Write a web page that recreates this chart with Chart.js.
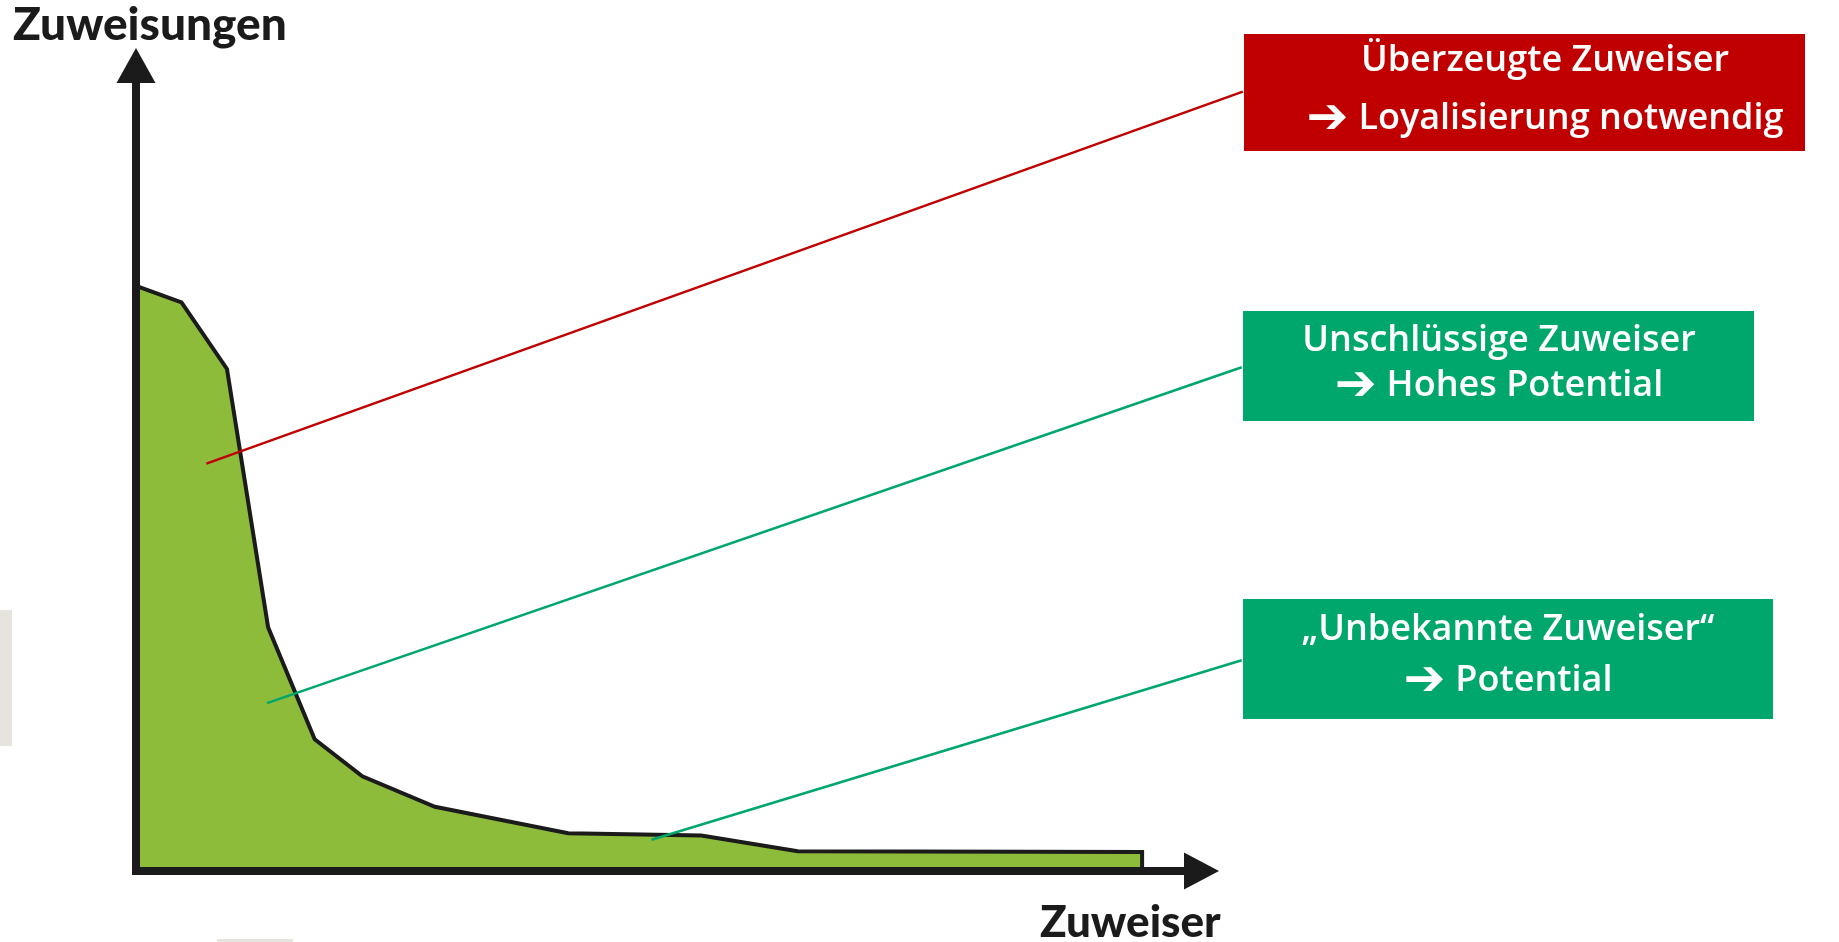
<!DOCTYPE html>
<html>
<head>
<meta charset="utf-8">
<title>Zuweiser-Analyse</title>
<script src="https://cdn.jsdelivr.net/npm/chart.js@4.4.0/dist/chart.umd.min.js"></script>
<style>
  html, body { margin: 0; padding: 0; background: #fff; overflow: hidden; }
  #wrap { width: 1839px; height: 942px; }
</style>
</head>
<body>
<div id="wrap"><canvas id="chart" width="1839" height="942"></canvas></div>
<script>
// ── Data ───────────────────────────────────────────────────────────────────

// Verteilungskurve: Zuweiser (x, 0–100) gegen Zuweisungen (y, 0–100)
const curveX = [0, 4.2, 8.4, 12.2, 16.5, 20.9, 27.6, 39.9, 52.2, 61.1, 92.9, 92.9];
const curveY = [71.1, 69.1, 61.0, 29.6, 16.0, 11.5, 7.8, 4.6, 4.3, 2.4, 2.3, 0];

// Hinweislinien (Start in der Fläche, Ende am Kasten)
const redLineX    = [6.5, 102.2];
const redLineY    = [49.5, 94.7];
const greenLine1X = [12.1, 102.1];
const greenLine1Y = [20.4, 61.2];
const greenLine2X = [47.6, 102.1];
const greenLine2Y = [3.8, 25.6];

const axisTitleY = 'Zuweisungen';
const axisTitleX = 'Zuweiser';

const boxLabels = [
  ['Überzeugte Zuweiser', '➔ Loyalisierung notwendig'],
  ['Unschlüssige Zuweiser', '➔ Hohes Potential'],
  ['„Unbekannte Zuweiser“', '➔ Potential']
];

// ── Helpers ────────────────────────────────────────────────────────────────

const toPoints = (xs, ys) => xs.map((x, i) => ({ x, y: ys[i] }));

const RED   = '#c00000';
const GREEN = '#00a76c';
const INK   = '#1b1b1b';

const BOX_FONT   = '600 36px "Open Sans", "DejaVu Sans", sans-serif';
const ARROW_FONT = 'bold 50px "DejaVu Sans", sans-serif';

// draws one label line; a leading arrow gets its own heavier font
const drawLine = (ctx, text, cx, cy) => {
  if (text.startsWith('➔ ')) {
    const rest = text.slice(2);
    ctx.font = ARROW_FONT;
    const aw = ctx.measureText('➔').width;
    ctx.font = BOX_FONT;
    const gap = 10;
    const rw = ctx.measureText(rest).width;
    const left = cx - (aw + gap + rw) / 2;
    ctx.textAlign = 'left';
    ctx.font = ARROW_FONT;
    ctx.fillText('➔', left, cy + 1);
    ctx.font = BOX_FONT;
    ctx.fillText(rest, left + aw + gap, cy);
  } else {
    ctx.textAlign = 'center';
    ctx.font = BOX_FONT;
    ctx.fillText(text, cx, cy);
  }
};

// ── Decoration plugin: axes, arrows, titles, boxes ─────────────────────────

const decor = {
  id: 'decor',
  beforeDraw(chart) {
    const { ctx } = chart;
    ctx.save();
    ctx.fillStyle = '#e7e4e0';
    ctx.fillRect(0, 610, 12, 136);
    ctx.fillRect(217, 939, 76, 3);
    ctx.restore();
  },
  afterDatasetsDraw(chart) {
    const { ctx, scales: { x, y } } = chart;
    const x0 = x.getPixelForValue(0);
    const y0 = y.getPixelForValue(0);
    const yTop = y.getPixelForValue(100);
    const xEnd = x.getPixelForValue(100);

    ctx.save();
    ctx.strokeStyle = INK;
    ctx.fillStyle = INK;
    ctx.lineWidth = 8;
    ctx.lineCap = 'butt';

    // y axis
    ctx.beginPath();
    ctx.moveTo(x0, y0 + 4);
    ctx.lineTo(x0, yTop + 34);
    ctx.stroke();
    ctx.beginPath();
    ctx.moveTo(x0, yTop);
    ctx.lineTo(x0 + 19.5, yTop + 35);
    ctx.lineTo(x0 - 19.5, yTop + 35);
    ctx.closePath();
    ctx.fill();

    // x axis
    ctx.beginPath();
    ctx.moveTo(x0 - 4, y0);
    ctx.lineTo(xEnd - 34, y0);
    ctx.stroke();
    ctx.beginPath();
    ctx.moveTo(xEnd, y0);
    ctx.lineTo(xEnd - 35, y0 - 18.5);
    ctx.lineTo(xEnd - 35, y0 + 18.5);
    ctx.closePath();
    ctx.fill();

    // axis titles
    ctx.textBaseline = 'alphabetic';
    ctx.textAlign = 'left';
    ctx.font = '900 46px Lato, "Open Sans", sans-serif';
    ctx.fillText(axisTitleY, 13, 40);
    ctx.font = '900 44px Lato, "Open Sans", sans-serif';
    ctx.fillText(axisTitleX, 1040, 937);
    ctx.restore();
  },
  afterDraw(chart, args, opts) {
    const { ctx } = chart;
    ctx.save();
    opts.boxes.forEach((b, i) => {
      ctx.fillStyle = b.color;
      ctx.fillRect(b.x, b.y, b.w, b.h);
      ctx.fillStyle = '#fff';
      ctx.textBaseline = 'middle';
      boxLabels[i].forEach((line, j) => drawLine(ctx, line, b.cx, b.lines[j]));
    });
    ctx.restore();
  }
};

// ── Chart ──────────────────────────────────────────────────────────────────

const leader = (label, xs, ys, color, width) => ({
  label,
  data: toPoints(xs, ys),
  borderColor: color,
  borderWidth: width,
  pointRadius: 0,
  fill: false,
  clip: false,
  order: 1
});

new Chart(document.getElementById('chart'), {
  type: 'line',
  data: {
    datasets: [
      {
        label: 'Zuweisungen',
        data: toPoints(curveX, curveY),
        borderColor: INK,
        borderWidth: 4,
        borderJoinStyle: 'miter',
        backgroundColor: '#8dbb3a',
        fill: 'origin',
        pointRadius: 0,
        tension: 0,
        order: 2
      },
      leader('Überzeugte', redLineX, redLineY, RED, 2.4),
      leader('Unschlüssige', greenLine1X, greenLine1Y, GREEN, 2.6),
      leader('Unbekannte', greenLine2X, greenLine2Y, GREEN, 2.6)
    ]
  },
  options: {
    responsive: false,
    animation: false,
    events: [],
    layout: { padding: { left: 136, right: 620, top: 48, bottom: 71 } },
    scales: {
      x: { type: 'linear', min: 0, max: 100, display: false },
      y: { type: 'linear', min: 0, max: 100, display: false }
    },
    plugins: {
      legend: { display: false },
      tooltip: { enabled: false },
      decor: {
        boxes: [
          { x: 1244, y: 34,  w: 561, h: 117, color: RED,   cx: 1545, lines: [61, 119] },
          { x: 1243, y: 311, w: 511, h: 110, color: GREEN, cx: 1499, lines: [341, 386] },
          { x: 1243, y: 599, w: 530, h: 120, color: GREEN, cx: 1508, lines: [630, 681] }
        ]
      }
    }
  },
  plugins: [decor]
});
</script>
</body>
</html>
